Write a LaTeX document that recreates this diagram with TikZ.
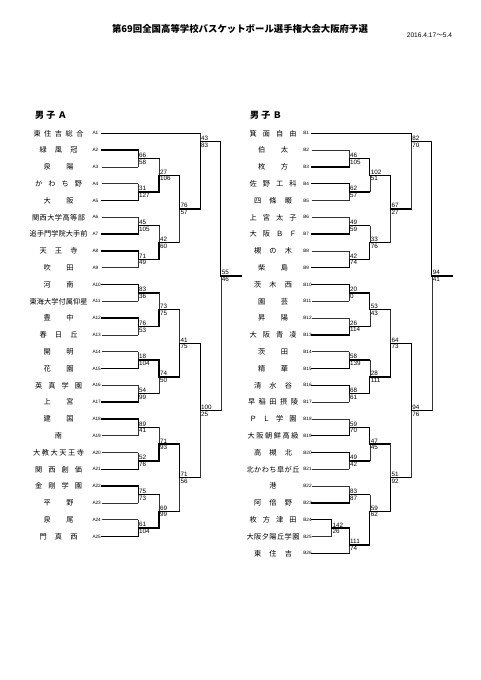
\documentclass[tikz,border=0pt]{standalone}
\usepackage{fontspec}
\newfontfamily\jp{Noto Sans CJK JP}
\newfontfamily\lib{Liberation Sans}
\makeatletter
\def\spr#1{\spr@a#1\@nil}
\def\spr@a#1#2\@nil{#1\ifx\relax#2\relax\else\hfill\spr@a#2\@nil\fi}
\makeatother
\newcommand\ry[1]{133.3+(#1-1)*16.8}
\tikzset{
  thk/.style={line width=1.3pt, line cap=rect},
  thn/.style={line width=0.6pt, black!80},
  nm/.style={font=\jp\fontsize{7.2}{8}\selectfont, inner sep=0pt},
  lb/.style={font=\lib\fontsize{4.7}{5}\selectfont, anchor=west, inner sep=0pt},
  sc/.style={font=\lib\fontsize{6.3}{7}\selectfont, inner xsep=0.8pt, inner ysep=0.9pt},
}
% team entry, side A: #1 num, #2 name, #3 width, #4 style, #5 end x
\newcommand\tA[5]{%
  \node[nm] (nA#1) at (58.5,{\ry{#1}}) {\makebox[#3pt]{\spr{#2}}};
  \node[lb] (lA#1) at (92.3,{\ry{#1}}) {A#1};
  \coordinate (sA#1) at (101.7,{\ry{#1}});
  \coordinate (eA#1) at (#5,{\ry{#1}});
  \draw[#4] (sA#1) -- (eA#1);}
\newcommand\tB[5]{%
  \node[nm] (nB#1) at (273,{\ry{#1}}) {\makebox[#3pt]{\spr{#2}}};
  \node[lb] (lB#1) at (303.1,{\ry{#1}}) {B#1};
  \coordinate (sB#1) at (311.7,{\ry{#1}});
  \coordinate (eB#1) at (#5,{\ry{#1}});
  \draw[#4] (sB#1) -- (eB#1);}
% match: #1 name, #2 x, #3 top y, #4 bottom y, #5 out y, #6 top score, #7 bottom score, #8 winner t/b, #9 next x
\newcommand\mt[9]{%
  \coordinate (#1) at (#2,#5);
  \coordinate (#1t) at (#2,#3);
  \coordinate (#1b) at (#2,#4);
  \coordinate (#1o) at (#9,#5);
  \ifx t#8
    \draw[thn] (#1) -- (#1b);
    \draw[thk] (#1t) -- (#1) -- (#1o);
  \else
    \draw[thn] (#1t) -- (#1);
    \draw[thk] (#1b) -- (#1) -- (#1o);
  \fi
  \node[sc,anchor=south west] (#1u) at (#1) {#6};
  \node[sc,anchor=north west] (#1l) at (#1) {#7};}
\begin{document}
\begin{tikzpicture}[x=1pt,y=-1pt]
\fill[white] (0,0) rectangle (481,680);
\useasboundingbox (0,0) rectangle (481,680);
% titles
\node (title) at (240,29.3) {\jp\bfseries\fontsize{9.4}{11}\selectfont 第69回全国高等学校バスケットボール選手権大会大阪府予選};
\node[anchor=west, inner sep=0pt] (date) at (406.7,35.7) {\lib\fontsize{6.6}{8}\selectfont 2016.4.17{\jp 〜}5.4};
\node (hA) at (51,115) {\jp\bfseries\fontsize{9}{10}\selectfont\makebox[32pt]{男\hfill 子\hfill Ａ}};
\node (hB) at (266,115) {\jp\bfseries\fontsize{9}{10}\selectfont\makebox[32pt]{男\hfill 子\hfill Ｂ}};
% ---------- A teams ----------
\tA{1}{東住吉総合}{50}{thk}{200.2}
\tA{2}{緑風冠}{38}{thk}{138.2}
\tA{3}{泉陽}{30}{thn}{138.2}
\tA{4}{かわち野}{47}{thn}{138.2}
\tA{5}{大阪}{30}{thk}{138.2}
\tA{6}{関西大学高等部}{53}{thn}{138.2}
\tA{7}{追手門学院大手前}{58}{thk}{138.2}
\tA{8}{天王寺}{38}{thk}{138.2}
\tA{9}{吹田}{30}{thn}{138.2}
\tA{10}{河南}{30}{thk}{138.2}
\tA{11}{東海大学付属仰星}{58}{thn}{138.2}
\tA{12}{豊中}{30}{thk}{138.2}
\tA{13}{春日丘}{38}{thn}{138.2}
\tA{14}{開明}{30}{thn}{138.2}
\tA{15}{花園}{30}{thk}{138.2}
\tA{16}{英真学園}{47}{thn}{138.2}
\tA{17}{上宮}{30}{thk}{138.2}
\tA{18}{建国}{30}{thk}{138.2}
\tA{19}{南}{8}{thn}{138.2}
\tA{20}{大教大天王寺}{51}{thn}{138.2}
\tA{21}{関西創価}{47}{thk}{138.2}
\tA{22}{金剛学園}{47}{thk}{138.2}
\tA{23}{平野}{30}{thn}{138.2}
\tA{24}{泉尾}{30}{thn}{138.2}
\tA{25}{門真西}{38}{thk}{138.2}
% ---------- A matches ----------
\mt{A23}{138.2}{150.1}{166.9}{158.5}{66}{58}{t}{159}
\mt{A45}{138.2}{183.7}{200.5}{192.1}{31}{127}{b}{159}
\mt{A67}{138.2}{217.3}{234.1}{225.7}{45}{105}{b}{159}
\mt{A89}{138.2}{250.9}{267.7}{259.3}{71}{49}{t}{159}
\mt{A1011}{138.2}{284.5}{301.3}{292.9}{83}{36}{t}{159}
\mt{A1213}{138.2}{318.1}{334.9}{326.5}{76}{53}{t}{159}
\mt{A1415}{138.2}{351.7}{368.5}{360.1}{18}{104}{b}{159}
\mt{A1617}{138.2}{385.3}{402.1}{393.7}{54}{99}{b}{159}
\mt{A1819}{138.2}{418.9}{435.7}{427.3}{89}{41}{t}{159}
\mt{A2021}{138.2}{452.5}{469.3}{460.9}{52}{76}{b}{159}
\mt{A2223}{138.2}{486.1}{502.9}{494.5}{75}{73}{t}{159}
\mt{A2425}{138.2}{519.7}{536.5}{528.1}{61}{104}{b}{159}
\mt{A25r}{159}{158.5}{192.1}{175.3}{27}{106}{b}{179.6}
\mt{A69}{159}{225.7}{259.3}{242.5}{42}{60}{b}{179.6}
\mt{A1013}{159}{292.9}{326.5}{309.7}{73}{75}{b}{179.6}
\mt{A1417}{159}{360.1}{393.7}{376.9}{74}{50}{t}{179.6}
\mt{A1821}{159}{427.3}{460.9}{444.1}{71}{93}{b}{179.6}
\mt{A2225}{159}{494.5}{528.1}{511.3}{69}{99}{b}{179.6}
\mt{A29}{179.6}{175.3}{242.5}{208.9}{76}{57}{t}{200.2}
\mt{A1017}{179.6}{309.7}{376.9}{343.3}{41}{75}{b}{200.2}
\mt{A1825}{179.6}{444.1}{511.3}{477.7}{71}{56}{t}{200.2}
\mt{A19}{200.2}{133.3}{208.9}{141.7}{43}{83}{b}{220.8}
\mt{A1025}{200.2}{343.3}{477.7}{410.5}{100}{25}{t}{220.8}
\mt{AF}{220.8}{141.7}{410.5}{276.1}{55}{46}{t}{241}
% ---------- B teams ----------
\tB{1}{箕面自由}{47}{thk}{411.3}
\tB{2}{伯太}{30}{thn}{349.2}
\tB{3}{枚方}{30}{thk}{349.2}
\tB{4}{佐野工科}{47}{thk}{349.2}
\tB{5}{四條畷}{38}{thn}{349.2}
\tB{6}{上宮太子}{47}{thn}{349.2}
\tB{7}{大阪ＢＦ}{47}{thk}{349.2}
\tB{8}{槻の木}{38}{thn}{349.2}
\tB{9}{柴島}{30}{thk}{349.2}
\tB{10}{茨木西}{38}{thk}{349.2}
\tB{11}{園芸}{30}{thn}{349.2}
\tB{12}{昇陽}{30}{thn}{349.2}
\tB{13}{大阪青凌}{47}{thk}{349.2}
\tB{14}{茨田}{30}{thn}{349.2}
\tB{15}{精華}{30}{thk}{349.2}
\tB{16}{清水谷}{38}{thk}{349.2}
\tB{17}{早稲田摂陵}{50}{thn}{349.2}
\tB{18}{ＰＬ学園}{47}{thn}{349.2}
\tB{19}{大阪朝鮮高級}{51}{thk}{349.2}
\tB{20}{高槻北}{38}{thk}{349.2}
\tB{21}{北かわち皐が丘}{53}{thn}{349.2}
\tB{22}{港}{8}{thn}{349.2}
\tB{23}{阿倍野}{38}{thk}{349.2}
\tB{24}{枚方津田}{47}{thk}{331.5}
\tB{25}{大阪夕陽丘学園}{53}{thn}{331.5}
\tB{26}{東住吉}{38}{thk}{349.2}
% ---------- B matches ----------
\mt{B23}{349.2}{150.1}{166.9}{158.5}{46}{105}{b}{369.8}
\mt{B45}{349.2}{183.7}{200.5}{192.1}{62}{57}{t}{369.8}
\mt{B67}{349.2}{217.3}{234.1}{225.7}{49}{59}{b}{369.8}
\mt{B89}{349.2}{250.9}{267.7}{259.3}{42}{74}{b}{369.8}
\mt{B1011}{349.2}{284.5}{301.3}{292.9}{20}{0}{t}{369.8}
\mt{B1213}{349.2}{318.1}{334.9}{326.5}{26}{114}{b}{369.8}
\mt{B1415}{349.2}{351.7}{368.5}{360.1}{58}{139}{b}{369.8}
\mt{B1617}{349.2}{385.3}{402.1}{393.7}{68}{61}{t}{369.8}
\mt{B1819}{349.2}{418.9}{435.7}{427.3}{59}{70}{b}{369.8}
\mt{B2021}{349.2}{452.5}{469.3}{460.9}{49}{42}{t}{369.8}
\mt{B2223}{349.2}{486.1}{502.9}{494.5}{83}{87}{b}{369.8}
\mt{B2425}{331.5}{519.7}{536.5}{528.1}{142}{26}{t}{349.2}
\mt{B2426}{349.2}{528.1}{553.3}{544.9}{111}{74}{t}{369.8}
\mt{B25r}{369.8}{158.5}{192.1}{175.3}{102}{51}{t}{390.5}
\mt{B69}{369.8}{225.7}{259.3}{242.5}{33}{76}{b}{390.5}
\mt{B1013}{369.8}{292.9}{326.5}{309.7}{53}{43}{t}{390.5}
\mt{B1417}{369.8}{360.1}{393.7}{376.9}{28}{111}{b}{390.5}
\mt{B1821}{369.8}{427.3}{460.9}{444.1}{47}{45}{t}{390.5}
\mt{B2226}{369.8}{494.5}{544.9}{511.3}{59}{62}{b}{390.5}
\mt{B29}{390.5}{175.3}{242.5}{208.9}{67}{27}{t}{411.3}
\mt{B1017}{390.5}{309.7}{376.9}{343.3}{64}{73}{b}{411.3}
\mt{B1826}{390.5}{444.1}{511.3}{477.7}{51}{92}{b}{411.3}
\mt{B19}{411.3}{133.3}{208.9}{141.7}{82}{70}{t}{431.8}
\mt{B1026}{411.3}{343.3}{477.7}{410.5}{94}{76}{t}{431.8}
\mt{BF}{431.8}{141.7}{410.5}{276.1}{94}{41}{t}{452}
\end{tikzpicture}
\end{document}
